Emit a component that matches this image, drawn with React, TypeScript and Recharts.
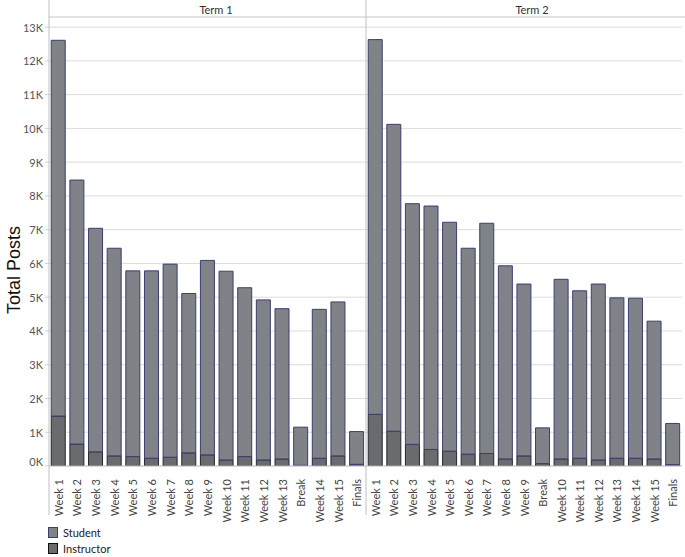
import React from "react";
import { BarChart, Bar, XAxis, YAxis, CartesianGrid } from "recharts";

const term1Categories = ["Week 1","Week 2","Week 3","Week 4","Week 5","Week 6","Week 7","Week 8","Week 9","Week 10","Week 11","Week 12","Week 13","Break","Week 14","Week 15","Finals"];
const term1Total = [12610, 8470, 7040, 6450, 5780, 5780, 5980, 5110, 6090, 5770, 5280, 4920, 4660, 1150, 4640, 4860, 1020];
const term1Instructor = [1480, 650, 420, 300, 280, 230, 260, 390, 330, 180, 280, 180, 210, 20, 230, 300, 50];

const term2Categories = ["Week 1","Week 2","Week 3","Week 4","Week 5","Week 6","Week 7","Week 8","Week 9","Break","Week 10","Week 11","Week 12","Week 13","Week 14","Week 15","Finals"];
const term2Total = [12630, 10120, 7770, 7700, 7220, 6450, 7190, 5930, 5390, 1130, 5530, 5190, 5390, 4980, 4970, 4290, 1260];
const term2Instructor = [1530, 1030, 640, 490, 440, 350, 370, 210, 300, 70, 210, 230, 180, 230, 230, 210, 40];

const yTicks = [0, 1000, 2000, 3000, 4000, 5000, 6000, 7000, 8000, 9000, 10000, 11000, 12000, 13000];
const panelTitles = ["Term 1", "Term 2"];
const legendItems = ["Student", "Instructor"];

const STUDENT_FILL = "#7f8287";
const INSTRUCTOR_FILL = "#696b6f";
const FONT = "Lato, 'Liberation Sans', Arial, sans-serif";

function build(cats: string[], total: number[], instr: number[]) {
  return cats.map((c, i) => ({ week: c, instructor: instr[i], student: total[i] - instr[i] }));
}

const data1 = build(term1Categories, term1Total, term1Instructor);
const data2 = build(term2Categories, term2Total, term2Instructor);

const XTick = (props: any) => {
  const { x, y, payload } = props;
  return (
    <g transform={`translate(${x},${y})`}>
      <text transform="rotate(-90)" textAnchor="end" dominantBaseline="central" fontSize={11} fill="#444" fontFamily={FONT}>
        {payload.value}
      </text>
    </g>
  );
};

const YTick = (props: any) => {
  const { x, y, payload } = props;
  const shift = payload.value === 0 ? -5 : 0;
  return (
    <text x={x} y={y + shift} textAnchor="end" dominantBaseline="central" fontSize={11} fill="#555" fontFamily={FONT}>
      {`${payload.value / 1000}K`}
    </text>
  );
};

const H = 557;
const MARGIN = { top: 18, right: 0, bottom: 0, left: 0 };

function Panel({ data, withY, width }: { data: any[]; withY: boolean; width: number }) {
  return (
    <BarChart width={width} height={H} data={data} margin={MARGIN} barCategoryGap="12%">
      <CartesianGrid vertical={false} stroke="#dcdcdc" horizontalValues={yTicks} />
      <XAxis
        dataKey="week"
        interval={0}
        height={91}
        tick={<XTick />}
        tickLine={false}
        axisLine={{ stroke: "#c8c8c8" }}
        tickMargin={7}
      />
      <YAxis
        hide={!withY}
        width={49}
        domain={[0, 13270]}
        ticks={yTicks}
        allowDataOverflow
        tick={<YTick />}
        tickLine={{ stroke: "#d0d0d0" }}
        tickSize={4}
        axisLine={false}
      />
      <Bar dataKey="instructor" stackId="a" fill={INSTRUCTOR_FILL} stroke="#26262c" strokeWidth={1} isAnimationActive={false} />
      <Bar dataKey="student" stackId="a" fill={STUDENT_FILL} stroke="#3a3f70" strokeWidth={1} isAnimationActive={false} />
    </BarChart>
  );
}

export default function App() {
  return (
    <div style={{ position: "absolute", left: 0, top: 0, width: 685, height: H, background: "#fff", fontFamily: FONT }}>
      <div style={{ position: "absolute", left: 0, top: 0 }}>
        <Panel data={data1} withY={true} width={366} />
      </div>
      <div style={{ position: "absolute", left: 366, top: 0 }}>
        <Panel data={data2} withY={false} width={316} />
      </div>
      <svg width={685} height={H} style={{ position: "absolute", left: 0, top: 0, pointerEvents: "none" }}>
        <line x1={49} y1={17} x2={685} y2={17} stroke="#c8c8c8" />
        <line x1={49} y1={0} x2={49} y2={515} stroke="#c0c0c0" />
        <line x1={366} y1={0} x2={366} y2={515} stroke="#c0c0c0" />
        <text x={216} y={9} textAnchor="middle" dominantBaseline="central" fontSize={11} fill="#333" fontFamily={FONT}>{panelTitles[0]}</text>
        <text x={532} y={9} textAnchor="middle" dominantBaseline="central" fontSize={11} fill="#333" fontFamily={FONT}>{panelTitles[1]}</text>
        <text transform="translate(14,270) rotate(-90)" textAnchor="middle" dominantBaseline="central" fontSize={18} fill="#111" fontFamily="'Liberation Sans', Arial, sans-serif">Total Posts</text>
        <rect x={48.5} y={527.5} width={9} height={10} fill={STUDENT_FILL} stroke="#3a3f70" />
        <text x={63} y={532.5} dominantBaseline="central" fontSize={11} fill="#222" fontFamily={FONT}>{legendItems[0]}</text>
        <rect x={48.5} y={543.5} width={9} height={10} fill={INSTRUCTOR_FILL} stroke="#111" />
        <text x={63} y={548.5} dominantBaseline="central" fontSize={11} fill="#222" fontFamily={FONT}>{legendItems[1]}</text>
      </svg>
    </div>
  );
}
